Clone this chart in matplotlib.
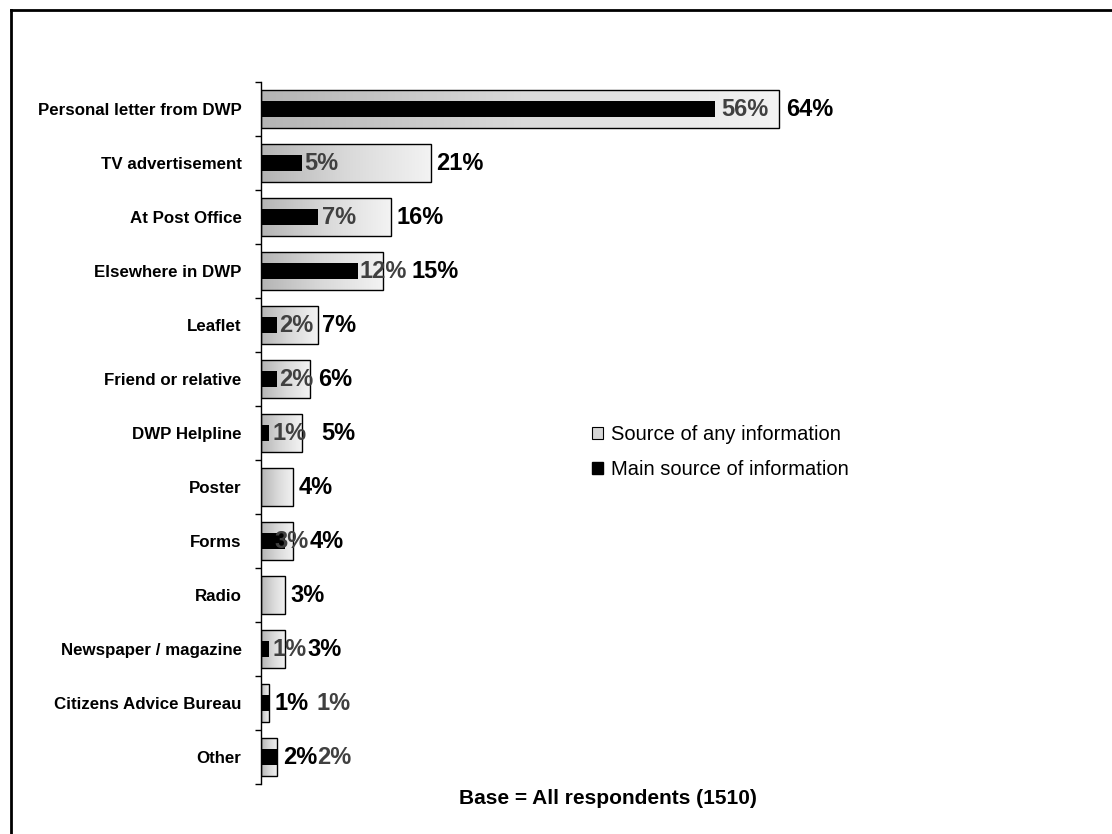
import numpy as np
import matplotlib
matplotlib.use("Agg")
import matplotlib.pyplot as plt
from matplotlib.colors import LinearSegmentedColormap
from matplotlib.patches import Rectangle, Patch
from matplotlib.lines import Line2D

plt.rcParams["font.family"] = ["Liberation Sans", "DejaVu Sans"]

# data
categories = ["Personal letter from DWP", "TV advertisement", "At Post Office",
              "Elsewhere in DWP", "Leaflet", "Friend or relative", "DWP Helpline",
              "Poster", "Forms", "Radio", "Newspaper / magazine",
              "Citizens Advice Bureau", "Other"]
any_source = [64, 21, 16, 15, 7, 6, 5, 4, 4, 3, 3, 1, 2]
main_source = [56, 5, 7, 12, 2, 2, 1, 0, 3, 0, 1, 1, 2]

# where the value labels sit (x in % units), as in the original layout
any_label_x = [64.8, 21.6, 16.7, 18.6, 7.5, 7.0, 7.5, 4.6, 6.0, 3.6, 5.7, 1.7, 2.7]
main_label_x = [56.8, 5.4, 7.5, 12.2, 2.2, 2.2, 1.4, None, 1.7, None, 1.4, 6.9, 6.9]

W, H = 1112, 834
fig = plt.figure(figsize=(W / 100, H / 100), dpi=100)
ax = fig.add_axes([261 / W, 1 - 784 / H, 810 / W, 702 / H])

cmap = LinearSegmentedColormap.from_list("grad", ["#b4b4b4", "#d9d9d9", "#f3f3f3"])
grad = np.linspace(0, 1, 256).reshape(1, -1)

y = np.arange(len(categories))
h_any, h_main = 0.72, 0.28
for i, v in enumerate(any_source):
    rect = Rectangle((0, i - h_any / 2), v, h_any, facecolor="none",
                     edgecolor="black", linewidth=1.0, zorder=3)
    ax.add_patch(rect)
    im = ax.imshow(grad, cmap=cmap, aspect="auto", interpolation="bilinear",
                   extent=[0, v, i + h_any / 2, i - h_any / 2], zorder=2)
    im.set_clip_path(rect)
ax.barh(y, main_source, height=h_main, color="black", zorder=4)

for i in range(len(categories)):
    ax.text(any_label_x[i], i, f"{any_source[i]}%", va="center", ha="left",
            fontsize=17, fontweight="bold", color="black", zorder=5)
    if main_label_x[i] is not None:
        ax.text(main_label_x[i], i, f"{main_source[i]}%", va="center", ha="left",
                fontsize=17, fontweight="bold", color="#404040", zorder=5)

ax.set_xlim(0, 100)
ax.set_ylim(len(categories) - 0.5, -0.5)
ax.set_yticks(y)
ax.set_yticklabels(categories, fontsize=12.2, fontweight="bold")
ax.set_yticks(np.arange(-0.5, len(categories)), minor=True)
ax.tick_params(axis="y", which="major", length=0, pad=14)
ax.tick_params(axis="y", which="minor", length=4, width=1, direction="out")
ax.xaxis.set_visible(False)
for s in ["top", "right", "bottom"]:
    ax.spines[s].set_visible(False)
ax.spines["left"].set_linewidth(1.0)
ax.patch.set_alpha(0)

handles = [Patch(facecolor="#d6d6d6", edgecolor="black", linewidth=0.8),
           Patch(facecolor="black", edgecolor="black")]
fig.legend(handles, ["Source of any information", "Main source of information"],
           loc="upper left", bbox_to_anchor=(592 / W, 1 - 425 / H),
           frameon=False, fontsize=14.5, handlelength=0.55, handleheight=0.55,
           handletextpad=0.4, labelspacing=0.78, borderaxespad=0, borderpad=0)

fig.text(608 / W, 1 - 798 / H, "Base = All respondents (1510)", ha="center",
         va="center", fontsize=15, fontweight="bold")

# frame lines on top and left edges
fig.add_artist(Line2D([11 / W, 1], [1 - 10 / H, 1 - 10 / H], color="black",
                      linewidth=2, transform=fig.transFigure))
fig.add_artist(Line2D([11 / W, 11 / W], [0, 1 - 10 / H], color="black",
                      linewidth=2, transform=fig.transFigure))

fig.savefig("out.png", dpi=100)
